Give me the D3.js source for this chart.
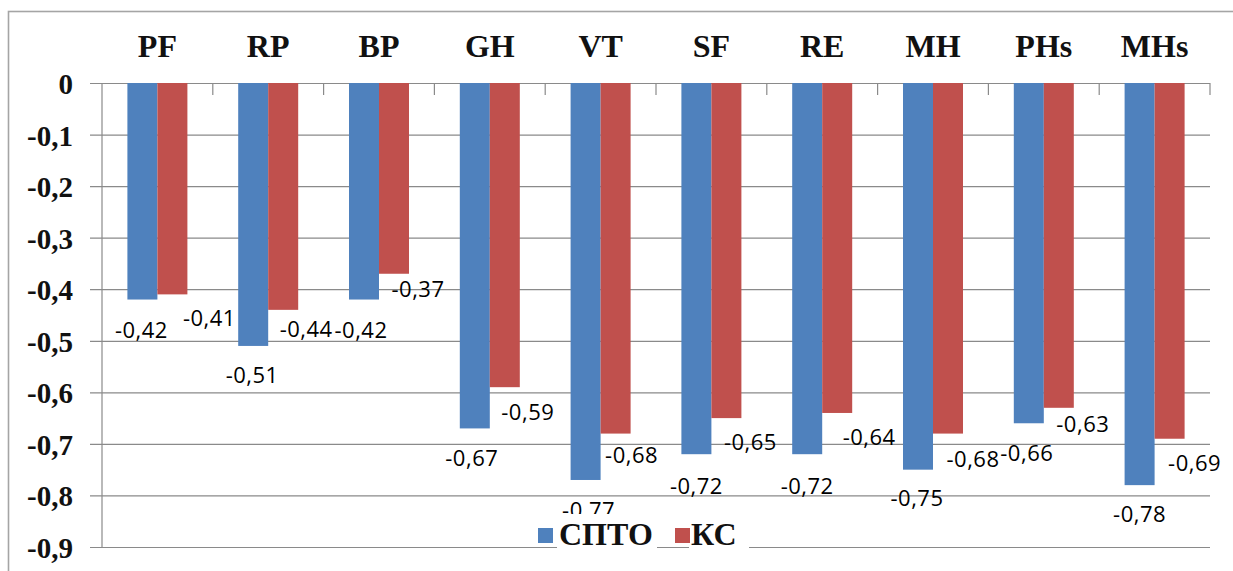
<!DOCTYPE html>
<html>
<head>
<meta charset="utf-8">
<script src="https://cdn.jsdelivr.net/npm/d3@7"></script>
<style>
  html, body { margin: 0; padding: 0; background: #fff; }
  svg { display: block; }
  .serif { font-family: "Liberation Serif", "Times New Roman", Tinos, serif; font-weight: bold; }
</style>
</head>
<body>
<svg id="chart" width="1233" height="571"></svg>
<script>
// Scale categories along the top axis
const categories = ["PF", "RP", "BP", "GH", "VT", "SF", "RE", "MH", "PHs", "MHs"];
const seriesNames = ["СПТО", "КС"];
const sptoValues = [-0.42, -0.51, -0.42, -0.67, -0.77, -0.72, -0.72, -0.75, -0.66, -0.78];
const ksValues = [-0.41, -0.44, -0.37, -0.59, -0.68, -0.65, -0.64, -0.68, -0.63, -0.69];
const yTickValues = [0, -0.1, -0.2, -0.3, -0.4, -0.5, -0.6, -0.7, -0.8, -0.9];
const seriesColors = ["#4f81bd", "#c0504d"];

// Hand-placed value labels: offsets (px) from the bar's centre / end
const sptoLabelDx = [-1, -1, -3, -3, 3, 0, 0, -1, -2, 0];
const sptoLabelDy = [30, 29, 30, 30, 30, 32, 32, 28, 30, 29];
const ksLabelDx = [37, 23, 24, 23, 16, 24, 32, 25, 24, 25];
const ksLabelDy = [24, 19, 15, 25, 21, 24, 24, 25, 16, 24];

const svg = d3.select("#chart");
const plot = { left: 102, right: 1210, top: 83, bottom: 547 };

// Outer chart frame
svg.append("rect")
  .attr("x", 8.5).attr("y", 11.5)
  .attr("width", 1260).attr("height", 600)
  .attr("fill", "#fff")
  .attr("stroke", "#a5a5a5").attr("stroke-width", 1.6);

const x0 = d3.scaleBand().domain(categories).range([plot.left, plot.right]);
const groupW = 60;
const x1 = d3.scaleBand().domain(seriesNames).range([0, groupW]);
const groupOffset = (x0.bandwidth() - groupW) / 2;
const y = d3.scaleLinear().domain([-0.9, 0]).range([plot.bottom, plot.top]);

const toComma = s => s.replace(/\u2212/g, "-").replace(".", ",");
const fmt = v => v === 0 ? "0" : toComma(d3.format(".1f")(v));
const fmt2 = v => toComma(d3.format(".2f")(v));

// Horizontal gridlines with tick labels on the left
const yAxis = d3.axisLeft(y)
  .tickValues(yTickValues)
  .tickSize(plot.right - 90)
  .tickPadding(17)
  .tickFormat(fmt);
const gy = svg.append("g")
  .attr("transform", `translate(${plot.right},0)`)
  .call(yAxis)
  .attr("font-family", null)
  .attr("font-size", null);
gy.select(".domain").remove();
gy.selectAll(".tick line").attr("stroke", "#8a8a8a").attr("stroke-width", 1.2);
gy.selectAll(".tick text")
  .attr("class", "serif")
  .attr("fill", "#111")
  .attr("dy", "0.36em")
  .style("font-size", "29px");

// Vertical value axis line
svg.append("line")
  .attr("x1", plot.left).attr("x2", plot.left)
  .attr("y1", y(0)).attr("y2", y(-0.9))
  .attr("stroke", "#8a8a8a").attr("stroke-width", 1.2);

// Category boundary tick marks hanging from the zero line
const boundaries = categories.slice(1).map(c => x0(c)).concat([plot.right]);
svg.append("g").selectAll("line")
  .data(boundaries)
  .join("line")
  .attr("x1", d => d).attr("x2", d => d)
  .attr("y1", y(0)).attr("y2", y(0) + 12)
  .attr("stroke", "#8a8a8a").attr("stroke-width", 1.2);

// Category labels along the top
const xAxis = d3.axisTop(x0).tickSize(0).tickPadding(26);
const gx = svg.append("g")
  .attr("transform", `translate(0,${y(0)})`)
  .call(xAxis)
  .attr("font-family", null)
  .attr("font-size", null);
gx.select(".domain").remove();
gx.selectAll(".tick text")
  .attr("class", "serif")
  .attr("fill", "#111")
  .style("font-size", "32px");

// Bars
const rows = categories.map((c, i) => ({ cat: c, i, vals: [sptoValues[i], ksValues[i]] }));
const groups = svg.append("g").selectAll("g")
  .data(rows)
  .join("g")
  .attr("transform", d => `translate(${x0(d.cat) + groupOffset},0)`);

groups.selectAll("rect")
  .data(d => d.vals.map((v, s) => ({ v, s })))
  .join("rect")
  .attr("x", d => x1(seriesNames[d.s]))
  .attr("width", x1.bandwidth())
  .attr("y", y(0))
  .attr("height", d => y(d.v) - y(0))
  .attr("fill", d => seriesColors[d.s]);

// Value labels
const labelData = [];
rows.forEach(r => {
  const base = x0(r.cat) + groupOffset;
  labelData.push({
    v: r.vals[0],
    x: base + x1(seriesNames[0]) + x1.bandwidth() / 2 + sptoLabelDx[r.i],
    y: y(r.vals[0]) + sptoLabelDy[r.i]
  });
  labelData.push({
    v: r.vals[1],
    x: base + x1(seriesNames[1]) + x1.bandwidth() / 2 + ksLabelDx[r.i],
    y: y(r.vals[1]) + ksLabelDy[r.i]
  });
});
svg.append("g").selectAll("text")
  .data(labelData)
  .join("text")
  .attr("x", d => d.x)
  .attr("y", d => d.y + 8)
  .attr("text-anchor", "middle")
  .attr("fill", "#000")
  .style("font-family", "'Open Sans', sans-serif")
  .style("font-size", "22px")
  .style("letter-spacing", "0.5px")
  .text(d => fmt2(d.v));

// Legend (text entries sit on white boxes)
const legend = svg.append("g");
const legendItems = [
  { name: seriesNames[0], color: seriesColors[0], sx: 538, tx: 559, w: 96 },
  { name: seriesNames[1], color: seriesColors[1], sx: 675, tx: 691, w: 56 }
];
legendItems.forEach(it => {
  legend.append("rect")
    .attr("x", it.tx - 2).attr("y", 514)
    .attr("width", it.w + 4).attr("height", 36)
    .attr("fill", "#fff");
  legend.append("rect")
    .attr("x", it.sx).attr("y", 528)
    .attr("width", 15).attr("height", 15)
    .attr("fill", it.color);
  legend.append("text")
    .attr("class", "serif")
    .attr("x", it.tx).attr("y", 545)
    .attr("fill", "#111")
    .style("font-size", "32px")
    .text(it.name);
});
</script>
</body>
</html>
